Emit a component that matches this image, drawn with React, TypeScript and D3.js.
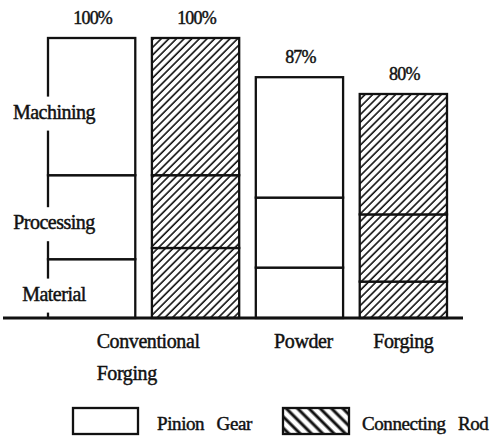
import * as d3 from "d3";

// cost share (%) per bar
const barKeys = ["conv-pinion", "conv-rod", "pf-pinion", "pf-rod"];
const barKind = ["Pinion Gear", "Connecting Rod", "Pinion Gear", "Connecting Rod"];
const material = [21, 25, 18, 13];
const processing = [30, 26, 25, 24];
const machining = [49, 49, 43, 43];
const totalLabels = ["100%", "100%", "87%", "80%"];
const layerNames = ["Material", "Processing", "Machining"];
const legendItems = ["Pinion Gear", "Connecting Rod"];

const W = 493;
const H = 438;
const FONT = "'Liberation Serif', 'DejaVu Serif', serif";

export default function App() {
  const rows = barKeys.map((k, i) => ({
    key: k,
    Material: material[i],
    Processing: processing[i],
    Machining: machining[i],
  }));
  const stack = d3.stack<any>().keys(layerNames)(rows);

  const x = d3.scaleBand().domain(barKeys).range([48, 447]).paddingInner(0.16);
  const y = d3.scaleLinear().domain([0, 100]).range([318, 38]);
  const bw = x.bandwidth();

  const fillFor = (i: number) => (barKind[i] === "Connecting Rod" ? "url(#hatch)" : "#fff");
  const total = (i: number) => material[i] + processing[i] + machining[i];

  // first bar carries the layer names on its left edge
  const first = stack.map((s) => s[0]);
  const labelX = x(barKeys[0])! + 6;

  const txt = { fontFamily: FONT, fontSize: 20, fill: "#111", stroke: "#111", strokeWidth: 0.45 };

  const lx = d3.scalePoint().domain(legendItems).range([73, 283]);

  return (
    <svg width={W} height={H} style={{ position: "absolute", left: 0, top: 0, background: "#fff" }}>
      <defs>
        <pattern id="hatch" patternUnits="userSpaceOnUse" width={5.4} height={5.4} patternTransform="rotate(45)">
          <rect width={5.4} height={5.4} fill="#fff" />
          <line x1={1} y1={0} x2={1} y2={5.4} stroke="#111" strokeWidth={1.6} />
        </pattern>
        <pattern id="hatchLegend" patternUnits="userSpaceOnUse" width={8} height={8} patternTransform="rotate(-45)">
          <rect width={8} height={8} fill="#fff" />
          <line x1={2} y1={0} x2={2} y2={8} stroke="#111" strokeWidth={3} />
        </pattern>
      </defs>
      <rect width={W} height={H} fill="#fff" />

      {stack.map((layer) =>
        layer.map((d, i) => (
          <rect
            key={layer.key + i}
            x={x(barKeys[i])}
            y={y(d[1])}
            width={bw}
            height={y(d[0]) - y(d[1])}
            fill={fillFor(i)}
            stroke="#111"
            strokeWidth={2.3}
          />
        ))
      )}

      <line x1={3} x2={463} y1={y(0)} y2={y(0)} stroke="#111" strokeWidth={2.8} />

      {totalLabels.map((t, i) => (
        <text
          key={t + i}
          x={x(barKeys[i])! + bw / 2 + 1}
          y={y(total(i)) - 14}
          textAnchor="middle"
          {...txt}
          fontSize={18}
          letterSpacing={-0.8}
        >
          {t}
        </text>
      ))}

      {layerNames.map((n, j) => {
        const cy = (y(first[j][0]) + y(first[j][1])) / 2 + 12;
        return (
          <g key={n}>
            <rect x={labelX - 14} y={cy - 22} width={22} height={34} fill="#fff" />
            <text x={labelX} y={cy} textAnchor="middle" {...txt} letterSpacing={-0.5}>
              {n}
            </text>
          </g>
        );
      })}

      <text x={x(barKeys[0])! + bw / 2 + 5} y={348} {...txt} letterSpacing={-0.4}>
        <tspan>Conventional</tspan>
        <tspan x={x(barKeys[0])! + bw / 2 + 5} dy={32}>Forging</tspan>
      </text>
      <text x={x(barKeys[2])! + bw / 2 + 4} y={348} textAnchor="middle" {...txt} letterSpacing={-0.4}>
        Powder
      </text>
      <text x={x(barKeys[3])! + bw / 2} y={348} textAnchor="middle" {...txt} letterSpacing={-0.4}>
        Forging
      </text>

      {legendItems.map((n, i) => (
        <g key={n} transform={`translate(${lx(n)},408)`}>
          <rect
            width={i === 0 ? 65 : 66}
            height={26}
            fill={i === 0 ? "#fff" : "url(#hatchLegend)"}
            stroke="#111"
            strokeWidth={2.3}
          />
          <text x={i === 0 ? 84 : 79} y={22} {...txt} fontSize={19} wordSpacing={8} letterSpacing={-0.4}>
            {n}
          </text>
        </g>
      ))}
    </svg>
  );
}
